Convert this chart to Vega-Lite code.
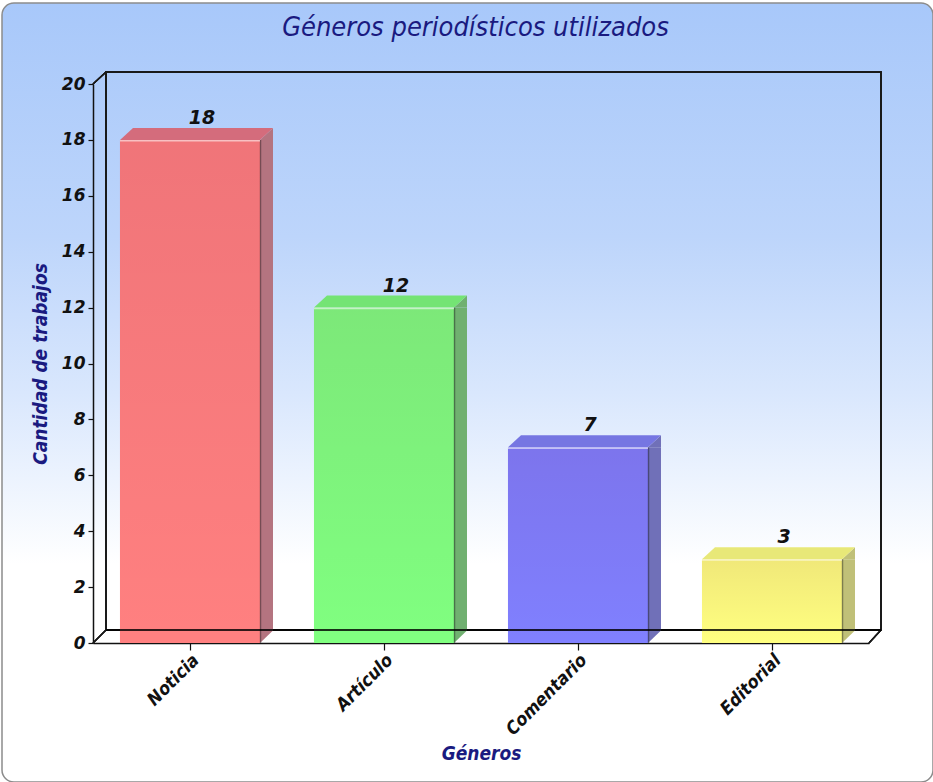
{
  "$schema": "https://vega.github.io/schema/vega-lite/v6.json",
  "width": 931,
  "height": 779,
  "autosize": "none",
  "padding": {"left": 2, "top": 3, "right": 0, "bottom": 0},
  "background": "#ffffff",
  "config": {
    "view": {
      "fill": {"gradient": "linear", "x1": 0, "y1": 0, "x2": 0, "y2": 1,
        "stops": [
          {"offset": 0, "color": "#a8c8fa"},
          {"offset": 0.3, "color": "#bdd5fb"},
          {"offset": 0.5, "color": "#d9e7fd"},
          {"offset": 0.72, "color": "#ffffff"},
          {"offset": 1, "color": "#ffffff"}
        ]},
      "stroke": "#8c8c8c",
      "strokeWidth": 1.5,
      "cornerRadius": 12
    },
    "axis": {
      "labelFont": "DejaVu Sans Condensed",
      "labelFontStyle": "italic",
      "labelFontWeight": "bold",
      "labelColor": "#111111",
      "domainColor": "#111111",
      "domainWidth": 1.5,
      "tickColor": "#111111",
      "tickWidth": 1.2,
      "titleFont": "DejaVu Sans Condensed",
      "titleFontStyle": "italic",
      "titleFontWeight": "bold",
      "titleFontSize": 19,
      "titleColor": "#1a1a80",
      "grid": false
    }
  },
  "title": {
    "text": "Géneros periodísticos utilizados",
    "font": "DejaVu Sans Condensed",
    "fontSize": 27,
    "fontStyle": "italic",
    "fontWeight": "normal",
    "color": "#1a1a80",
    "anchor": "middle",
    "offset": 0,
    "baseline": "middle",
    "dy": 52,
    "dx": 8
  },
  "data": {
    "values": [
      {"genero": "Noticia", "cantidad": 18},
      {"genero": "Artículo", "cantidad": 12},
      {"genero": "Comentario", "cantidad": 7},
      {"genero": "Editorial", "cantidad": 3}
    ]
  },
  "layer": [
    {
      "mark": {"type": "rect", "filled": false, "stroke": "#1a1a1a", "strokeWidth": 1.5,
        "xOffset": 13, "x2Offset": 12, "yOffset": -13, "y2Offset": -12},
      "encoding": {
        "x": {"datum": 0, "type": "quantitative", "scale": {"domain": [0, 1], "range": [91, 867]}, "axis": null},
        "x2": {"datum": 1},
        "y": {"datum": 0, "type": "quantitative", "scale": {"domain": [0, 20], "range": [640, 81]}},
        "y2": {"datum": 20}
      }
    },
    {
      "mark": {"type": "rule", "color": "#1a1a1a", "strokeWidth": 1.3, "x2Offset": 13, "y2Offset": -12},
      "encoding": {
        "x": {"datum": 0, "type": "quantitative", "scale": {"domain": [0, 1], "range": [91, 867]}, "axis": null},
        "x2": {"datum": 0},
        "y": {"datum": 20, "type": "quantitative"},
        "y2": {"datum": 20}
      }
    },
    {
      "mark": {"type": "rule", "color": "#1a1a1a", "strokeWidth": 1.3, "x2Offset": 13, "y2Offset": -13},
      "encoding": {
        "x": {"datum": 0, "type": "quantitative", "scale": {"domain": [0, 1], "range": [91, 867]}, "axis": null},
        "x2": {"datum": 0},
        "y": {"datum": 0, "type": "quantitative"},
        "y2": {"datum": 0}
      }
    },
    {
      "mark": {"type": "rule", "color": "#1a1a1a", "strokeWidth": 1.3, "x2Offset": 12, "y2Offset": -13},
      "encoding": {
        "x": {"datum": 1, "type": "quantitative", "scale": {"domain": [0, 1], "range": [91, 867]}, "axis": null},
        "x2": {"datum": 1},
        "y": {"datum": 0, "type": "quantitative"},
        "y2": {"datum": 0}
      }
    },
    {
      "mark": {"type": "bar"},
      "encoding": {
        "x": {
          "field": "genero", "type": "nominal", "sort": null,
          "scale": {"range": [91, 867], "paddingInner": 0.278, "paddingOuter": 0.139},
          "axis": {"orient": "bottom", "offset": -139, "title": "Géneros", "labelAngle": -45,
            "labelAlign": "right", "labelBaseline": "top", "labelFontSize": 18, "tickSize": 7,
            "labelPadding": 1, "titlePadding": 6}
        },
        "y": {
          "field": "cantidad", "type": "quantitative",
          "scale": {"domain": [0, 20], "range": [640, 81]},
          "axis": {"orient": "left", "offset": -91, "title": "Cantidad de trabajos",
            "values": [0, 2, 4, 6, 8, 10, 12, 14, 16, 18, 20], "labelFont": "DejaVu Sans",
            "labelFontSize": 17, "tickSize": 5, "labelPadding": 3, "titlePadding": 11}
        },
        "color": {
          "field": "genero", "type": "nominal", "legend": null,
          "scale": {"domain": ["Noticia", "Artículo", "Comentario", "Editorial"],
            "range": ["#ff8080", "#80ff80", "#8080ff", "#ffff80"]}
        }
      }
    },
    {
      "mark": {"type": "bar",
        "fill": {"gradient": "linear", "x1": 0, "y1": 0, "x2": 0, "y2": 1,
          "stops": [
            {"offset": 0, "color": "rgba(90,0,50,0.09)"},
            {"offset": 1, "color": "rgba(90,0,50,0)"}
          ]}},
      "encoding": {
        "x": {"field": "genero", "type": "nominal", "sort": null,
          "scale": {"range": [91, 867], "paddingInner": 0.278, "paddingOuter": 0.139}, "axis": null},
        "y": {"field": "cantidad", "type": "quantitative"}
      }
    },
    {
      "mark": {"type": "bar", "width": 13, "xOffset": 76.5, "y2Offset": -12},
      "encoding": {
        "x": {"field": "genero", "type": "nominal", "sort": null,
          "scale": {"range": [91, 867], "paddingInner": 0.278, "paddingOuter": 0.139}, "axis": null},
        "y": {"field": "cantidad", "type": "quantitative"},
        "y2": {"datum": 0},
        "color": {
          "field": "genero", "type": "nominal", "legend": null,
          "scale": {"domain": ["Noticia", "Artículo", "Comentario", "Editorial"],
            "range": ["#b47480", "#70b070", "#7070b8", "#c0c078"]}
        }
      }
    },
    {
      "mark": {"type": "point", "shape": "M70,0L83,-12L83,0Z", "size": 4, "filled": true, "opacity": 1, "strokeWidth": 0},
      "encoding": {
        "x": {"field": "genero", "type": "nominal", "sort": null,
          "scale": {"range": [91, 867], "paddingInner": 0.278, "paddingOuter": 0.139}, "axis": null},
        "y": {"field": "cantidad", "type": "quantitative"},
        "color": {
          "field": "genero", "type": "nominal", "legend": null,
          "scale": {"domain": ["Noticia", "Artículo", "Comentario", "Editorial"],
            "range": ["#b47480", "#70b070", "#7070b8", "#c0c078"]}
        }
      }
    },
    {
      "mark": {"type": "point", "shape": "M70,-12.5L70,0L83,-12.5Z", "size": 4, "filled": true, "opacity": 1, "strokeWidth": 0},
      "encoding": {
        "x": {"field": "genero", "type": "nominal", "sort": null,
          "scale": {"range": [91, 867], "paddingInner": 0.278, "paddingOuter": 0.139}, "axis": null},
        "y": {"datum": 0, "type": "quantitative"},
        "color": {
          "field": "genero", "type": "nominal", "legend": null,
          "scale": {"domain": ["Noticia", "Artículo", "Comentario", "Editorial"],
            "range": ["#b47480", "#70b070", "#7070b8", "#c0c078"]}
        }
      }
    },
    {
      "mark": {"type": "bar", "width": 1.5, "xOffset": 70.5, "color": "#000000", "opacity": 0.35},
      "encoding": {
        "x": {"field": "genero", "type": "nominal", "sort": null,
          "scale": {"range": [91, 867], "paddingInner": 0.278, "paddingOuter": 0.139}, "axis": null},
        "y": {"field": "cantidad", "type": "quantitative"}
      }
    },
    {
      "mark": {"type": "point", "shape": "M-70,0L70,0L83,-12L-57,-12Z", "size": 4, "filled": true, "opacity": 1, "strokeWidth": 0},
      "encoding": {
        "x": {"field": "genero", "type": "nominal", "sort": null,
          "scale": {"range": [91, 867], "paddingInner": 0.278, "paddingOuter": 0.139}, "axis": null},
        "y": {"field": "cantidad", "type": "quantitative"},
        "color": {
          "field": "genero", "type": "nominal", "legend": null,
          "scale": {"domain": ["Noticia", "Artículo", "Comentario", "Editorial"],
            "range": ["#d46c7c", "#74e474", "#7676e2", "#e8e878"]}
        }
      }
    },
    {
      "mark": {"type": "point", "shape": "M-70,0.8L70,0.8", "size": 4, "filled": false, "stroke": "#ffffff", "strokeWidth": 1.6, "opacity": 0.55},
      "encoding": {
        "x": {"field": "genero", "type": "nominal", "sort": null,
          "scale": {"range": [91, 867], "paddingInner": 0.278, "paddingOuter": 0.139}, "axis": null},
        "y": {"field": "cantidad", "type": "quantitative"}
      }
    },
    {
      "mark": {"type": "text", "dx": 12, "dy": -16, "baseline": "alphabetic", "font": "DejaVu Sans",
        "fontSize": 19, "fontStyle": "italic", "fontWeight": "bold", "color": "#111111"},
      "encoding": {
        "x": {"field": "genero", "type": "nominal", "sort": null,
          "scale": {"range": [91, 867], "paddingInner": 0.278, "paddingOuter": 0.139}, "axis": null},
        "y": {"field": "cantidad", "type": "quantitative"},
        "text": {"field": "cantidad", "type": "quantitative"}
      }
    },
    {
      "mark": {"type": "rule", "color": "#000000", "strokeWidth": 1.3, "opacity": 0.45,
        "xOffset": 13, "x2Offset": 12, "yOffset": -13, "y2Offset": -13},
      "encoding": {
        "x": {"datum": 0, "type": "quantitative", "scale": {"domain": [0, 1], "range": [91, 867]}, "axis": null},
        "x2": {"datum": 1},
        "y": {"datum": 0, "type": "quantitative"},
        "y2": {"datum": 0}
      }
    }
  ],
  "resolve": {"scale": {"x": "independent", "color": "independent"}, "axis": {"x": "independent"}, "legend": {"color": "independent"}}
}
